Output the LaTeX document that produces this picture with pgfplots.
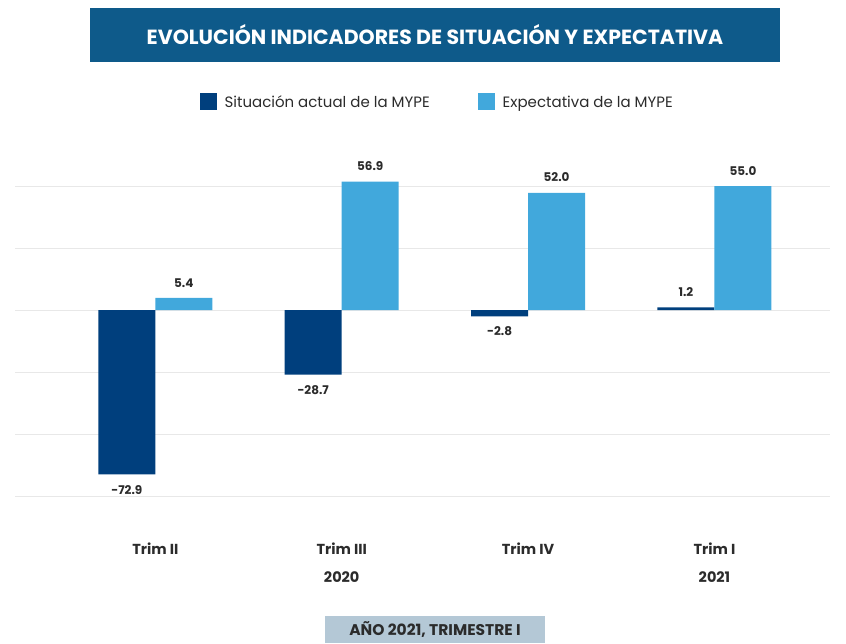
\documentclass[border=0pt]{standalone}
\usepackage{pgfplots}
\pgfplotsset{compat=1.18}
\usepackage{fontspec}
\setmainfont{Poppins}
\definecolor{banner}{HTML}{0E5A8A}
\definecolor{darkbar}{HTML}{003F7D}
\definecolor{lightbar}{HTML}{41A8DC}
\definecolor{footbg}{HTML}{B4C8D6}
\definecolor{txt}{HTML}{2B2B2B}
\begin{document}
\begin{tikzpicture}[x=1pt,y=1pt]
\useasboundingbox (0,0) rectangle (846,643);
% title banner
\fill[banner] (90,581) rectangle (780,635);
\node[text=white,font=\bfseries\fontsize{20.5}{24}\selectfont] at (435,608) {EVOLUCIÓN INDICADORES DE SITUACIÓN Y EXPECTATIVA};
% footer banner
\fill[footbg] (325,0) rectangle (545,27);
\node[text=txt,font=\bfseries\fontsize{15.5}{18}\selectfont] at (435,13) {AÑO 2021, TRIMESTRE I};
\begin{axis}[
  at={(15pt,147pt)}, anchor=south west,
  scale only axis, width=815pt, height=310pt,
  xmin=-0.753, xmax=3.62,
  ymin=-82.5, ymax=55,
  clip=false,
  axis line style={draw=none},
  major tick length=0pt,
  ytick={-82.5,-55,-27.5,0,27.5,55},
  yticklabels={},
  ymajorgrids,
  grid style={draw=gray!18, line width=0.8pt},
  xtick={0,1,2,3},
  xticklabels={Trim II,Trim III\\[11pt]2020,Trim IV,Trim I\\[11pt]2021},
  xticklabel style={align=center, anchor=north, yshift=-43pt, text=txt, font=\bfseries\fontsize{14.5}{17}\selectfont},
  ybar=0pt, bar width=57pt,
  nodes near coords={\pgfmathprintnumber[fixed,fixed zerofill,precision=1,assume math mode=true]{\pgfplotspointmeta}},
  every node near coord/.append style={text=txt, font=\bfseries\fontsize{12}{14}\selectfont, inner sep=10.5pt},
  legend columns=2,
  legend style={at={(0.518,1.271)}, anchor=center, draw=none, fill=none,
    font=\fontsize{15}{18}\selectfont, text=txt,
    /tikz/every odd column/.append style={column sep=6pt},
    /tikz/every even column/.append style={column sep=46pt}},
  legend image code/.code={\fill[#1] (0pt,-8pt) rectangle (17pt,9pt);},
]
\addplot[fill=darkbar, draw=none] coordinates {(0,-72.9) (1,-28.7) (2,-2.8) (3,1.2)};
\addplot[fill=lightbar, draw=none] coordinates {(0,5.4) (1,56.9) (2,52.0) (3,55.0)};
\legend{Situación actual de la MYPE, Expectativa de la MYPE}
\end{axis}
\end{tikzpicture}
\end{document}
